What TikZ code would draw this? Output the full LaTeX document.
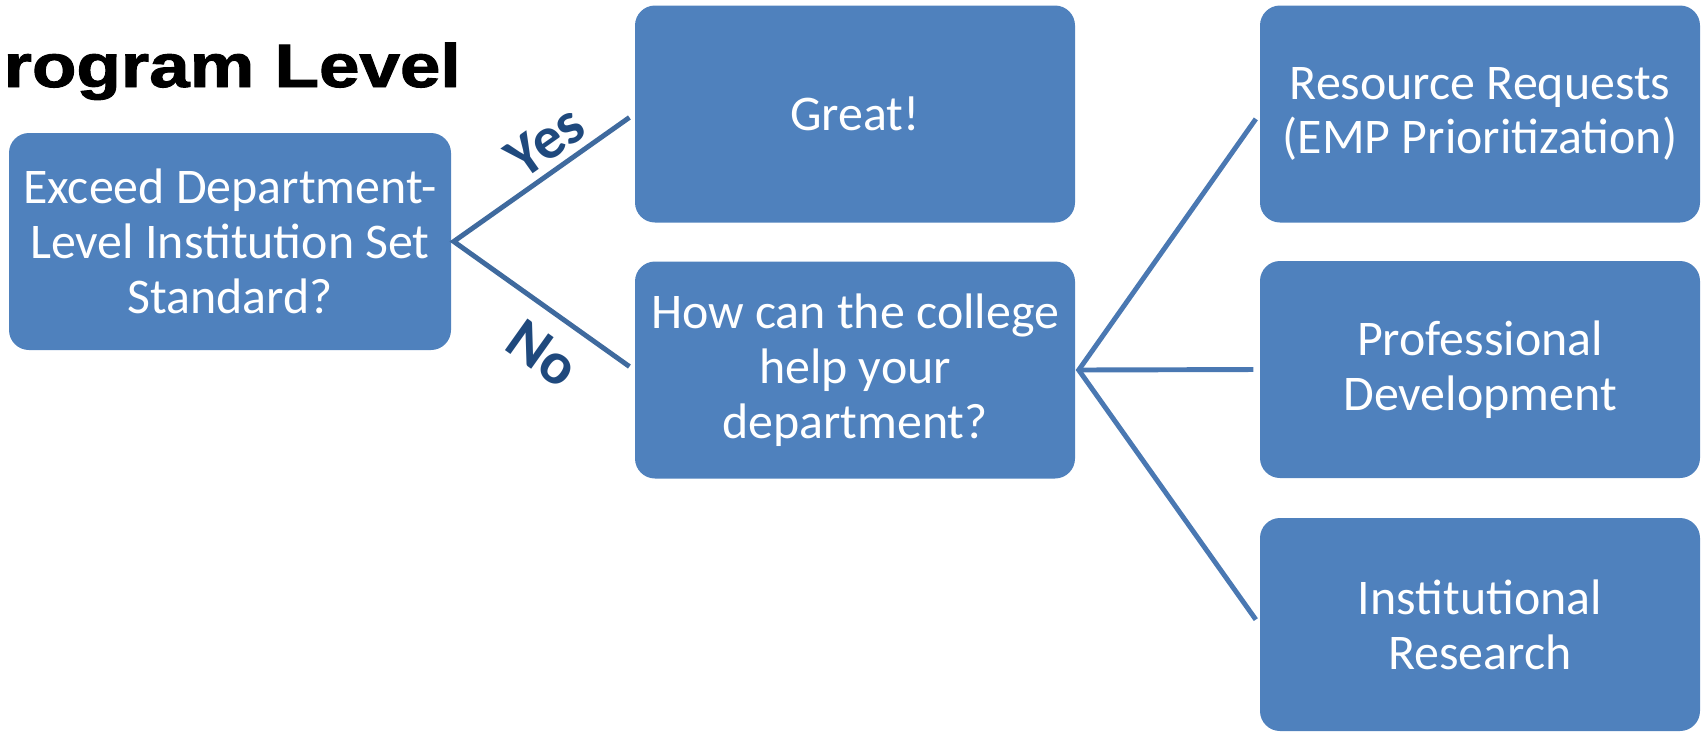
\documentclass[tikz,border=0pt]{standalone}
\usepackage{fontspec}
\setmainfont{Carlito}
\newfontfamily\titlefont[BoldFeatures={FakeBold=1.5}]{Liberation Sans}
\definecolor{boxblue}{HTML}{4F81BD}
\definecolor{linkblue}{HTML}{4A78B2}
\definecolor{leftlink}{HTML}{3F6A9E}
\definecolor{answerblue}{HTML}{1F497D}
\begin{document}
\begin{tikzpicture}[
	box/.style={rectangle, rounded corners=0.2cm, fill=boxblue, text=white, minimum width=4.4cm, minimum height=2.17cm, align=center, font=\fontsize{14.2}{15.6}\selectfont},
	link/.style={line width=1.4pt, line join=miter, shorten <=0.06cm, shorten >=0.06cm},
	answer/.style={font=\bfseries\fontsize{17}{19}\selectfont, text=answerblue, sloped, inner sep=1pt}]

	\useasboundingbox (0,0) rectangle (17.03,7.32);

	\node[anchor=base west, inner sep=0, font=\titlefont\bfseries\fontsize{17.4}{20}\selectfont] (Title) at (0.03,6.45) {\scalebox{1.19}[1]{rogram Level}};

	\node[box, minimum width=4.42cm] (Exceed) at (2.30,4.905) {Exceed Department-\\Level Institution Set\\Standard?};
	\node[box] (Great) at (8.55,6.18) {Great!};
	\node[box] (Help) at (8.55,3.62) {How can the college\\help your\\department?};
	\node[box] (Resource) at (14.80,6.18) {Resource Requests\\(EMP Prioritization)};
	\node[box] (Prof) at (14.80,3.625) {Professional\\Development};
	\node[box, minimum height=2.13cm] (Research) at (14.80,1.075) {Institutional\\Research};

	\coordinate (Split) at ([xshift=0.02cm]Exceed.east);
	\coordinate (Fork) at ([xshift=0.03cm]Help.east);

	% yes / no
	\draw[link, draw=leftlink] (Great.west) -- node[answer, pos=0.4, above=1pt]{Yes} (Split) -- node[answer, pos=0.62, below=4pt]{No} (Help.west);

	% what the college offers
	\draw[link, draw=linkblue] (Resource.west) -- (Fork) -- (Research.west);
	\draw[link, draw=linkblue, shorten <=0pt] (Fork) -- (Prof.west);

\end{tikzpicture}
\end{document}
